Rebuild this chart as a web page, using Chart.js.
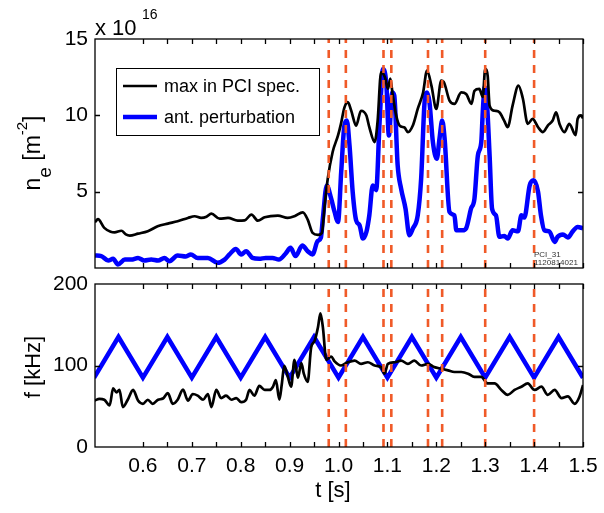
<!DOCTYPE html>
<html>
<head>
<meta charset="utf-8">
<script src="https://cdn.jsdelivr.net/npm/chart.js@4.4.0/dist/chart.umd.min.js"></script>
<style>
  body { margin: 0; background: #fff; }
  .box { position: absolute; left: 0; width: 604px; }
</style>
</head>
<body>
<div class="box" style="top:0;height:275px"><canvas id="topChart" width="604" height="275"></canvas></div>
<div class="box" style="top:275px;height:238px"><canvas id="botChart" width="604" height="238"></canvas></div>
<script>
// ---- data ----
// top panel, n_e in units of 1e16 m^-2
const tMax = [0.502,0.508,0.521,0.534,0.542,0.556,0.565,0.573,0.590,0.610,0.630,0.651,0.671,0.692,0.706,0.719,0.730,0.740,0.757,0.774,0.794,0.808,0.822,0.835,0.849,0.876,0.896,0.910,0.927,0.937,0.947,0.958,0.966,0.972,0.978,0.988,0.999,1.005,1.012,1.019,1.026,1.036,1.046,1.057,1.063,1.074,1.080,1.087,1.095,1.101,1.106,1.111,1.118,1.125,1.135,1.142,1.152,1.162,1.173,1.181,1.190,1.200,1.210,1.215,1.227,1.237,1.251,1.261,1.272,1.278,1.288,1.295,1.300,1.305,1.309,1.319,1.329,1.339,1.346,1.356,1.368,1.377,1.387,1.397,1.408,1.418,1.428,1.438,1.445,1.452,1.462,1.472,1.485,1.489,1.496,1.500];
const neMax = [3.0,3.2,2.63,2.38,2.34,2.44,2.2,2.12,2.25,2.41,2.73,2.91,3.06,3.28,3.39,3.28,3.35,3.56,3.23,3.28,3.10,3.12,3.5,3.10,3.32,3.43,3.28,3.39,3.65,3.17,2.30,2.17,2.30,4.2,5.85,7.6,8.68,9.44,10.5,10.86,10.31,9.33,10.3,9.99,9.23,8.25,9.64,12.82,12.5,11.73,12.4,11.3,9.99,9.33,9.2,8.9,9.33,10.42,11.5,12.93,11.95,10.42,12.27,12.2,10.97,10.75,11.5,11.4,10.75,11.6,11.73,11.2,13.04,12.6,10.64,10.3,10.2,9.64,9.23,10.64,11.95,11.1,9.44,9.77,9.23,8.9,9.33,9.66,10.2,9.44,8.9,9.44,8.7,9.77,10.0,9.8];

const tAnt = [0.502,0.515,0.529,0.539,0.549,0.563,0.576,0.590,0.603,0.617,0.631,0.644,0.654,0.671,0.688,0.698,0.712,0.733,0.753,0.767,0.777,0.790,0.801,0.811,0.824,0.838,0.851,0.865,0.878,0.892,0.902,0.912,0.926,0.937,0.947,0.957,0.964,0.968,0.976,0.985,0.992,0.999,1.0055,1.012,1.017,1.0225,1.029,1.036,1.043,1.050,1.057,1.063,1.070,1.077,1.084,1.091,1.098,1.103,1.110,1.114,1.121,1.128,1.137,1.145,1.152,1.162,1.169,1.176,1.181,1.186,1.193,1.201,1.2065,1.212,1.217,1.227,1.237,1.241,1.254,1.261,1.271,1.278,1.285,1.292,1.295,1.299,1.303,1.309,1.314,1.322,1.329,1.339,1.346,1.356,1.367,1.374,1.380,1.391,1.399,1.408,1.414,1.421,1.431,1.442,1.448,1.459,1.469,1.479,1.489,1.500];
const neAnt = [0.82,0.78,0.49,0.6,0.23,0.55,0.55,0.66,0.49,0.55,0.49,0.66,0.45,0.82,0.75,0.89,0.66,0.66,0.34,0.55,0.89,1.25,0.89,1.1,0.66,0.6,0.66,0.66,0.55,0.95,1.32,0.78,1.47,1.1,0.89,1.75,2.0,3.24,5.41,4.54,3.67,3.02,6.29,9.33,9.66,8.03,4.98,3.13,2.8,1.93,2.36,3.45,5.41,5.1,9.55,13.04,11.95,8.68,11.5,11.3,6.72,5.2,3.89,2.14,2.58,3.45,5.85,10.86,11.5,10.86,8.25,7.16,8.46,9.66,8.46,3.67,3.45,2.47,2.47,2.6,3.89,4.54,7.37,8.25,10.2,11.84,11.1,7.37,3.89,3.45,2.04,2.1,1.93,2.47,2.4,3.45,3.3,5.41,5.74,5.0,3.45,2.47,2.4,1.71,2.04,2.2,2.0,2.4,2.69,2.6];

// bottom panel, f in kHz
const tFmax = [0.501,0.511,0.521,0.532,0.539,0.546,0.552,0.559,0.569,0.580,0.590,0.600,0.610,0.620,0.631,0.641,0.651,0.661,0.671,0.682,0.692,0.702,0.712,0.723,0.733,0.740,0.750,0.760,0.770,0.781,0.791,0.801,0.811,0.818,0.828,0.838,0.849,0.859,0.866,0.872,0.879,0.884,0.889,0.896,0.903,0.910,0.917,0.924,0.929,0.937,0.944,0.951,0.958,0.963,0.968,0.975,0.985,0.992,1.005,1.019,1.033,1.046,1.060,1.074,1.087,1.094,1.101,1.115,1.128,1.142,1.155,1.169,1.183,1.196,1.210,1.224,1.237,1.251,1.265,1.278,1.292,1.305,1.319,1.333,1.346,1.360,1.374,1.387,1.401,1.415,1.428,1.442,1.456,1.469,1.483,1.493,1.500];
const fMax = [57,59,58,51,72,67,70,49,58,70,57,53,58,53,58,59.5,66,53,58,70.5,57,65,63,58,65,49,70,60,63,58,60,55,58,70,63,75,70,70,74,82,58,77,99.5,87,74,107,85,103,90,80,122,130,147,164,147,107,111,105,100,104,106,102,104,100,98,90,102,104,106,102,106,100,102,98,96,94,92,92,90,86,86,78,78,70,64,70,74,78,70,74,64,70,60,62,53,62,76];

const tSweep = [0.50,0.55,0.60,0.65,0.70,0.75,0.80,0.85,0.90,0.95,1.00,1.05,1.10,1.15,1.20,1.25,1.30,1.35,1.40,1.45,1.50];
const fSweep = [85,135,85,135,85,135,85,135,85,135,85,135,85,135,85,135,85,135,85,135,85];

// times of the dashed markers
const tMarks = [0.98,1.015,1.092,1.108,1.183,1.212,1.30,1.40];

const xTicksMinor = [0.6,0.65,0.7,0.75,0.8,0.85,0.9,0.95,1.0,1.05,1.1,1.15,1.2,1.25,1.3,1.35,1.4,1.45,1.5];
const xTickLabels = [0.6,0.7,0.8,0.9,1.0,1.1,1.2,1.3,1.4,1.5];
const yTicksTop = [5,10,15];
const yTicksBot = [0,100,200];

const FONT = "'Liberation Sans', Arial, sans-serif";
const ORANGE = '#f05a28';
const BLUE = '#0000ff';

const pts = (xs, ys) => xs.map((x, i) => ({ x: x, y: ys[i] }));

function markerSets(ymax) {
  return tMarks.map(t => ({
    data: [{ x: t, y: 0 }, { x: t, y: ymax }],
    borderColor: ORANGE, borderWidth: 2.6, borderDash: [8, 7],
    pointRadius: 0, order: 0
  }));
}

// frame with inward ticks, like the matlab axes box
const frame = {
  id: 'frame',
  afterDatasetsDraw(chart, args, opts) {
    const { ctx, chartArea: a, scales } = chart;
    ctx.save();
    ctx.strokeStyle = '#000';
    ctx.lineWidth = 1.3;
    ctx.beginPath();
    xTicksMinor.forEach(v => {
      const px = Math.round(scales.x.getPixelForValue(v)) + 0.5;
      ctx.moveTo(px, a.bottom); ctx.lineTo(px, a.bottom - 5);
      ctx.moveTo(px, a.top); ctx.lineTo(px, a.top + 5);
    });
    opts.yMarks.forEach(v => {
      const py = Math.round(scales.y.getPixelForValue(v)) + 0.5;
      ctx.moveTo(a.left, py); ctx.lineTo(a.left + 5, py);
      ctx.moveTo(a.right, py); ctx.lineTo(a.right - 5, py);
    });
    ctx.stroke();
    ctx.strokeRect(a.left, a.top, a.right - a.left, a.bottom - a.top);
    ctx.restore();
  }
};

// text made of pieces with sub/superscripts, optionally rotated
function richText(ctx, parts, cx, cy, rotated) {
  ctx.save();
  ctx.translate(cx, cy);
  if (rotated) ctx.rotate(-Math.PI / 2);
  let w = 0;
  parts.forEach(p => { ctx.font = p.size + 'px ' + FONT; p.w = ctx.measureText(p.t).width; w += p.w; });
  let x = -w / 2;
  ctx.fillStyle = '#000';
  ctx.textBaseline = 'alphabetic';
  ctx.textAlign = 'left';
  parts.forEach(p => {
    ctx.font = p.size + 'px ' + FONT;
    ctx.fillText(p.t, x, p.dy || 0);
    x += p.w;
  });
  ctx.restore();
}

const topDecor = {
  id: 'topDecor',
  afterDraw(chart) {
    const ctx = chart.ctx;
    // exponent
    ctx.save();
    ctx.fillStyle = '#000';
    ctx.textAlign = 'left';
    ctx.textBaseline = 'alphabetic';
    ctx.font = '22px ' + FONT;
    ctx.fillText('x 10', 95, 35);
    ctx.font = '14px ' + FONT;
    ctx.fillText('16', 142, 19);
    // legend
    ctx.lineWidth = 1;
    ctx.strokeStyle = '#000';
    ctx.fillStyle = '#fff';
    ctx.fillRect(116.5, 68.5, 203, 67);
    ctx.strokeRect(116.5, 68.5, 203, 67);
    ctx.lineWidth = 2.5;
    ctx.beginPath(); ctx.moveTo(123, 86); ctx.lineTo(157, 86); ctx.stroke();
    ctx.strokeStyle = BLUE; ctx.lineWidth = 4.5;
    ctx.beginPath(); ctx.moveTo(123, 117); ctx.lineTo(157, 117); ctx.stroke();
    ctx.fillStyle = '#000';
    ctx.font = '18px ' + FONT;
    ctx.textBaseline = 'middle';
    ctx.fillText('max in PCI spec.', 164, 87);
    ctx.fillText('ant. perturbation', 164, 118);
    // shot id
    ctx.font = '8px ' + FONT;
    ctx.textBaseline = 'alphabetic';
    ctx.fillStyle = '#333';
    ctx.fillText('PCI_31', 534, 257);
    ctx.fillText('1120814021', 534, 265);
    ctx.restore();
    richText(ctx, [
      { t: 'n', size: 23 },
      { t: 'e', size: 19, dy: 11 },
      { t: ' [m', size: 23 },
      { t: '-2', size: 15, dy: -13 },
      { t: ']', size: 23 }
    ], 40, 153, true);
  }
};

const botDecor = {
  id: 'botDecor',
  afterDraw(chart) {
    const ctx = chart.ctx;
    richText(ctx, [{ t: 'f [kHz]', size: 22 }], 40, 92, true);
    richText(ctx, [{ t: 't [s]', size: 22 }], 333, 222, false);
  }
};

// no extra room for labels that overhang the ends of an axis
function noOverhang(s) {
  s.paddingTop = 0; s.paddingBottom = 0; s.paddingLeft = 0; s.paddingRight = 0;
}

function xScale(showLabels) {
  return {
    type: 'linear', min: 0.502, max: 1.5,
    display: showLabels,
    grid: { display: false, drawTicks: false },
    border: { display: false },
    afterBuildTicks: s => { s.ticks = xTickLabels.map(v => ({ value: v })); },
    afterFit: s => { if (showLabels) s.height = 66; noOverhang(s); },
    ticks: {
      padding: 7, color: '#000', maxRotation: 0, autoSkip: false,
      font: { family: FONT, size: 21 },
      callback: v => v.toFixed(1)
    }
  };
}

function yScale(min, max, ticks) {
  return {
    type: 'linear', min: min, max: max,
    grid: { display: false, drawTicks: false },
    border: { display: false },
    afterBuildTicks: s => { s.ticks = ticks.map(v => ({ value: v })); },
    afterFit: s => { s.width = 95; noOverhang(s); },
    ticks: { padding: 7, color: '#000', font: { family: FONT, size: 21 } }
  };
}

const common = {
  responsive: false,
  animation: false,
  plugins: { legend: { display: false }, tooltip: { enabled: false } },
  elements: { line: { borderCapStyle: 'butt' } }
};

new Chart(document.getElementById('topChart'), {
  type: 'line',
  data: {
    datasets: [
      ...markerSets(15),
      { data: pts(tMax, neMax), borderColor: '#000', borderWidth: 2.7, pointRadius: 0, cubicInterpolationMode: 'monotone', order: 1 },
      { data: pts(tAnt, neAnt), borderColor: BLUE, borderWidth: 4.5, pointRadius: 0, cubicInterpolationMode: 'monotone', order: 2 }
    ]
  },
  options: {
    ...common,
    layout: { padding: { top: 39, right: 21, bottom: 7, left: 0 } },
    scales: { x: xScale(false), y: yScale(0, 15, yTicksTop) },
    plugins: { ...common.plugins, frame: { yMarks: [5, 10] } }
  },
  plugins: [frame, topDecor]
});

new Chart(document.getElementById('botChart'), {
  type: 'line',
  data: {
    datasets: [
      ...markerSets(200),
      { data: pts(tFmax, fMax), borderColor: '#000', borderWidth: 2.7, pointRadius: 0, cubicInterpolationMode: 'monotone', order: 1 },
      { data: pts(tSweep, fSweep), borderColor: BLUE, borderWidth: 4.5, pointRadius: 0, tension: 0, order: 2 }
    ]
  },
  options: {
    ...common,
    layout: { padding: { top: 9, right: 21, bottom: 0, left: 0 } },
    scales: { x: xScale(true), y: yScale(0, 200, yTicksBot) },
    plugins: { ...common.plugins, frame: { yMarks: [100] } }
  },
  plugins: [frame, botDecor]
});
</script>
</body>
</html>
